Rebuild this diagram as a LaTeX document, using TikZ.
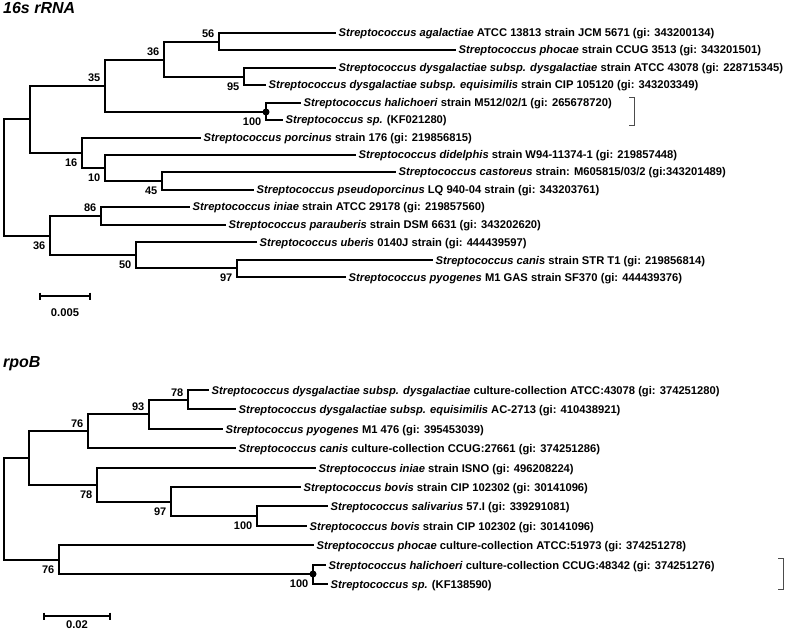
\documentclass[tikz,border=0pt]{standalone}
\usepackage{fontspec}
\setmainfont{Liberation Sans}
\begin{document}
\begin{tikzpicture}[x=1bp,y=-1bp,
  br/.style={line width=2.5bp, line cap=rect},
  leaf/.style={anchor=west, inner xsep=3.5bp, inner ysep=0pt, text height=8bp, text depth=0pt, font=\fontsize{11.2bp}{13bp}\selectfont\bfseries},
  bsup/.style={anchor=base east, inner sep=0pt, xshift=-4.5bp, yshift=4bp, font=\fontsize{11bp}{13bp}\selectfont\bfseries},
  bsdn/.style={anchor=base east, inner sep=0pt, xshift=-4.5bp, yshift=-13.2bp, font=\fontsize{11bp}{13bp}\selectfont\bfseries},
  ttl/.style={anchor=base west, inner sep=0pt, font=\fontsize{16bp}{18bp}\selectfont\bfseries\itshape},
  sbar/.style={line width=1.1bp},
  sclbl/.style={inner sep=0pt, font=\fontsize{11.2bp}{13bp}\selectfont\bfseries},
  brk/.style={line width=1bp, draw=black!70},
  dotn/.style={circle, fill=black, inner sep=0pt, minimum size=7bp}]
\useasboundingbox (0,0) rectangle (789,630);

% ================= 16s rRNA =================
\node[ttl] (t1) at (3,13.3) {16s rRNA};

% leaves
\node[leaf] (a1)  at (335,33)  {\textit{Streptococcus agalactiae} ATCC 13813 strain JCM 5671 (gi: 343200134)};
\node[leaf] (a2)  at (455,50)  {\textit{Streptococcus phocae} strain CCUG 3513 (gi: 343201501)};
\node[leaf] (a3)  at (335,68)  {\textit{Streptococcus dysgalactiae subsp. dysgalactiae} strain ATCC 43078 (gi: 228715345)};
\node[leaf] (a4)  at (265,85)  {\textit{Streptococcus dysgalactiae subsp. equisimilis} strain CIP 105120 (gi: 343203349)};
\node[leaf] (a5)  at (300,103) {\textit{Streptococcus halichoeri} strain M512/02/1 (gi: 265678720)};
\node[leaf] (a6)  at (282,120) {\textit{Streptococcus sp.} (KF021280)};
\node[leaf] (a7)  at (200,138) {\textit{Streptococcus porcinus} strain 176 (gi: 219856815)};
\node[leaf] (a8)  at (355,155) {\textit{Streptococcus didelphis} strain W94-11374-1 (gi: 219857448)};
\node[leaf] (a9)  at (395,172) {\textit{Streptococcus castoreus} strain: M605815/03/2 (gi:343201489)};
\node[leaf] (a10) at (253,190) {\textit{Streptococcus pseudoporcinus} LQ 940-04 strain (gi: 343203761)};
\node[leaf] (a11) at (189,207) {\textit{Streptococcus iniae} strain ATCC 29178 (gi: 219857560)};
\node[leaf] (a12) at (225,225) {\textit{Streptococcus parauberis} strain DSM 6631 (gi: 343202620)};
\node[leaf] (a13) at (256,242) {\textit{Streptococcus uberis} 0140J strain (gi: 444439597)};
\node[leaf] (a14) at (432,260) {\textit{Streptococcus canis} strain STR T1 (gi: 219856814)};
\node[leaf] (a15) at (345,277) {\textit{Streptococcus pyogenes} M1 GAS strain SF370 (gi: 444439376)};

% internal nodes
\coordinate (n56)  at (219,42);
\coordinate (n95)  at (244,77);
\coordinate (n36a) at (164,60);
\coordinate (n100a) at (266,112);
\coordinate (n35)  at (105,86);
\coordinate (n45)  at (162,181);
\coordinate (n10)  at (105,168);
\coordinate (n16)  at (82,153);
\coordinate (nA)   at (30,119);
\coordinate (n86)  at (101,216);
\coordinate (n97a) at (237,268);
\coordinate (n50)  at (136,255);
\coordinate (n36b) at (50,236);
\coordinate (r1)   at (4,177);

\draw[br] (n56) |- (a1.west);  \draw[br] (n56) |- (a2.west);
\draw[br] (n95) |- (a3.west);  \draw[br] (n95) |- (a4.west);
\draw[br] (n36a) |- (n56);     \draw[br] (n36a) |- (n95);
\draw[br] (n100a) |- (a5.west); \draw[br] (n100a) |- (a6.west);
\draw[br] (n35) |- (n36a);     \draw[br] (n35) |- (n100a);
\draw[br] (n45) |- (a9.west);  \draw[br] (n45) |- (a10.west);
\draw[br] (n10) |- (a8.west);  \draw[br] (n10) |- (n45);
\draw[br] (n16) |- (a7.west);  \draw[br] (n16) |- (n10);
\draw[br] (nA) |- (n35);       \draw[br] (nA) |- (n16);
\draw[br] (n86) |- (a11.west); \draw[br] (n86) |- (a12.west);
\draw[br] (n97a) |- (a14.west); \draw[br] (n97a) |- (a15.west);
\draw[br] (n50) |- (a13.west); \draw[br] (n50) |- (n97a);
\draw[br] (n36b) |- (n86);     \draw[br] (n36b) |- (n50);
\draw[br] (r1) |- (nA);        \draw[br] (r1) |- (n36b);
\node[dotn] (d1) at (n100a) {};

% bootstrap values
\node[bsup] (b56)  at (n56)  {56};
\node[bsup] (b36a) at (n36a) {36};
\node[bsdn] (b95)  at (n95)  {95};
\node[bsup] (b35)  at (n35)  {35};
\node[bsdn] (b100a) at (n100a) {100};
\node[bsdn] (b16)  at (n16)  {16};
\node[bsdn] (b10)  at (n10)  {10};
\node[bsdn] (b45)  at (n45)  {45};
\node[bsup] (b86)  at (n86)  {86};
\node[bsdn] (b36b) at (n36b) {36};
\node[bsdn] (b50)  at (n50)  {50};
\node[bsdn] (b97a) at (n97a) {97};

% scale bar
\coordinate (s1a) at (40,296);
\coordinate (s1b) at (90,296);
\draw[sbar] (s1a) -- (s1b);
\draw[sbar] ([yshift=3.5bp]s1a) -- ([yshift=-3.5bp]s1a);
\draw[sbar] ([yshift=3.5bp]s1b) -- ([yshift=-3.5bp]s1b);
\node[sclbl] (sl1) at (65,313) {0.005};

% bracket
\coordinate (k1a) at (629,98);
\coordinate (k1b) at (629,126);
\draw[brk] (k1a) -- ++(5,0) |- (k1b);

% ================= rpoB =================
\node[ttl] (t2) at (3,367) {rpoB};

\node[leaf] (c1)  at (208,390) {\textit{Streptococcus dysgalactiae subsp. dysgalactiae} culture-collection ATCC:43078 (gi: 374251280)};
\node[leaf] (c2)  at (235,409) {\textit{Streptococcus dysgalactiae subsp. equisimilis} AC-2713 (gi: 410438921)};
\node[leaf] (c3)  at (222,429) {\textit{Streptococcus pyogenes} M1 476 (gi: 395453039)};
\node[leaf] (c4)  at (235,448) {\textit{Streptococcus canis} culture-collection CCUG:27661 (gi: 374251286)};
\node[leaf] (c5)  at (315,468) {\textit{Streptococcus iniae} strain ISNO (gi: 496208224)};
\node[leaf] (c6)  at (300,487) {\textit{Streptococcus bovis} strain CIP 102302 (gi: 30141096)};
\node[leaf] (c7)  at (327,506) {\textit{Streptococcus salivarius} 57.I (gi: 339291081)};
\node[leaf] (c8)  at (306,526) {\textit{Streptococcus bovis} strain CIP 102302 (gi: 30141096)};
\node[leaf] (c9)  at (313,545) {\textit{Streptococcus phocae} culture-collection ATCC:51973 (gi: 374251278)};
\node[leaf] (c10) at (325,565) {\textit{Streptococcus halichoeri} culture-collection CCUG:48342 (gi: 374251276)};
\node[leaf] (c11) at (327,584) {\textit{Streptococcus sp.} (KF138590)};

\coordinate (m78a)  at (188,400);
\coordinate (m93)   at (149,414);
\coordinate (m76a)  at (88,431);
\coordinate (m100a) at (257,516);
\coordinate (m97)   at (171,502);
\coordinate (m78b)  at (97,485);
\coordinate (mB)    at (29,458);
\coordinate (m100b) at (313,574);
\coordinate (m76b)  at (59,560);
\coordinate (r2)    at (4,509);

\draw[br] (m78a) |- (c1.west);  \draw[br] (m78a) |- (c2.west);
\draw[br] (m93) |- (m78a);      \draw[br] (m93) |- (c3.west);
\draw[br] (m76a) |- (m93);      \draw[br] (m76a) |- (c4.west);
\draw[br] (m100a) |- (c7.west); \draw[br] (m100a) |- (c8.west);
\draw[br] (m97) |- (c6.west);   \draw[br] (m97) |- (m100a);
\draw[br] (m78b) |- (c5.west);  \draw[br] (m78b) |- (m97);
\draw[br] (mB) |- (m76a);       \draw[br] (mB) |- (m78b);
\draw[br] (m100b) |- (c10.west); \draw[br] (m100b) |- (c11.west);
\draw[br] (m76b) |- (c9.west);  \draw[br] (m76b) |- (m100b);
\draw[br] (r2) |- (mB);         \draw[br] (r2) |- (m76b);
\node[dotn] (d2) at (m100b) {};

\node[bsup] (e78a)  at (m78a)  {78};
\node[bsup] (e93)   at (m93)   {93};
\node[bsup] (e76a)  at (m76a)  {76};
\node[bsdn] (e78b)  at (m78b)  {78};
\node[bsdn] (e97)   at (m97)   {97};
\node[bsdn] (e100a) at (m100a) {100};
\node[bsdn] (e76b)  at (m76b)  {76};
\node[bsdn] (e100b) at (m100b) {100};

\coordinate (s2a) at (44,616);
\coordinate (s2b) at (110,616);
\draw[sbar] (s2a) -- (s2b);
\draw[sbar] ([yshift=3.5bp]s2a) -- ([yshift=-3.5bp]s2a);
\draw[sbar] ([yshift=3.5bp]s2b) -- ([yshift=-3.5bp]s2b);
\node[sclbl] (sl2) at (77,625) {0.02};

\coordinate (k2a) at (778,558);
\coordinate (k2b) at (778,589);
\draw[brk] (k2a) -- ++(5,0) |- (k2b);
\end{tikzpicture}
\end{document}
